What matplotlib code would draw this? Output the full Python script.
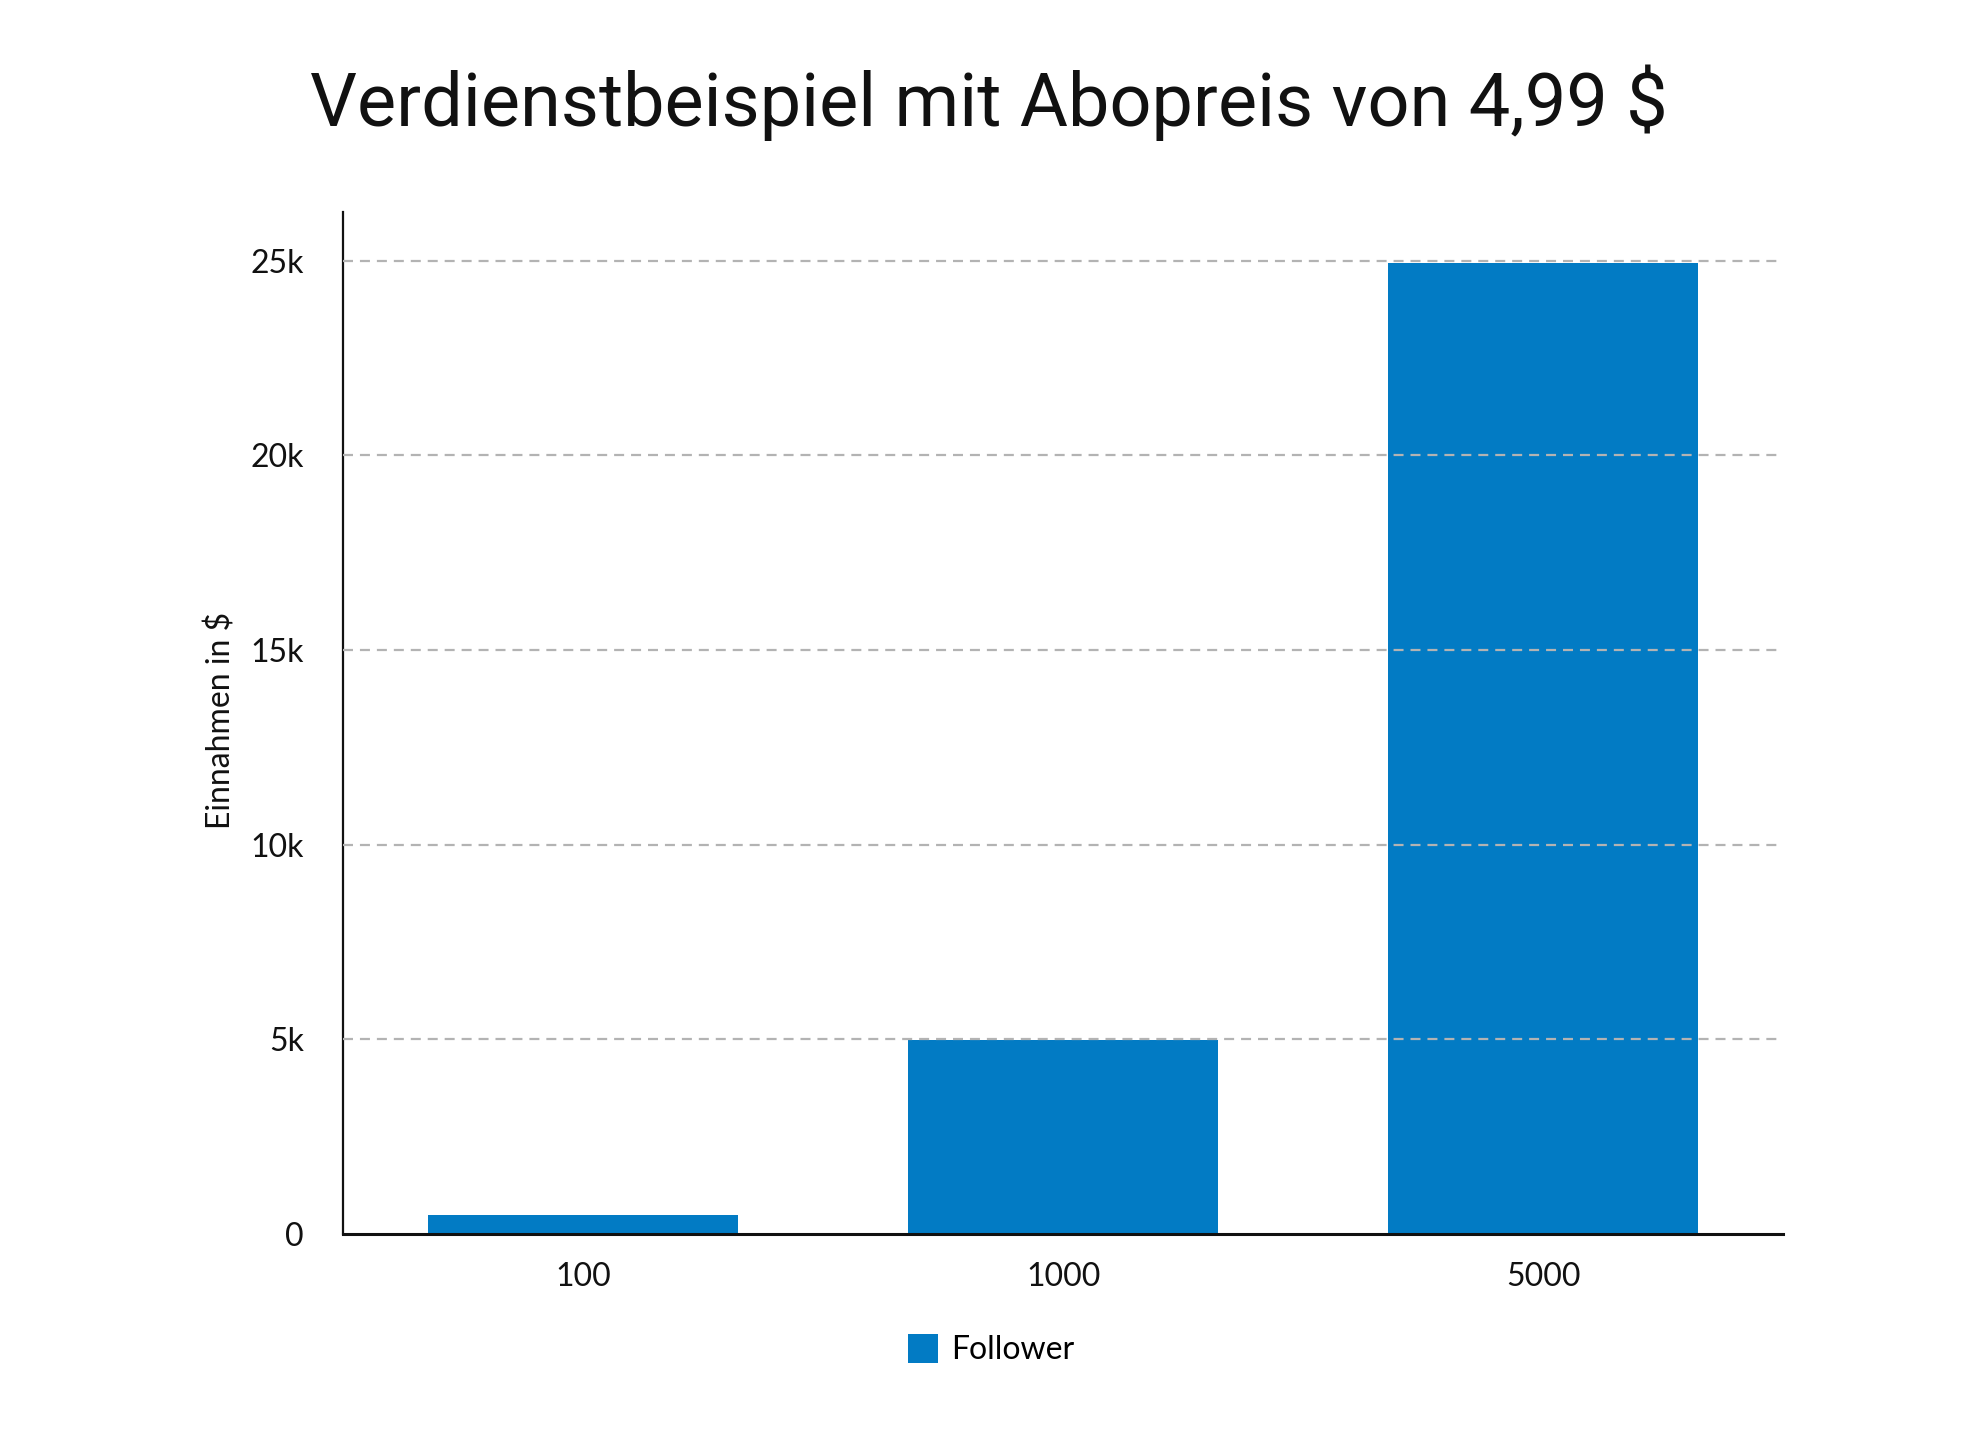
import matplotlib
matplotlib.use("Agg")
import matplotlib.pyplot as plt
from matplotlib.ticker import FuncFormatter

# data
followers = ["100", "1000", "5000"]
earnings = [499, 4990, 24950]
yticks = [0, 5000, 10000, 15000, 20000, 25000]

bar_color = "#027BC4"
plt.rcParams["font.family"] = ["Lato", "DejaVu Sans"]
plt.rcParams["lines.scale_dashes"] = False

fig = plt.figure(figsize=(19.8, 14.36), dpi=100)
ax = fig.add_axes([0.1732, 0.1407, 0.9007 - 0.1732, 0.8524 - 0.1407])

x = range(len(followers))
ax.bar(x, earnings, width=0.645, color=bar_color, label="Follower", zorder=2)

ax.set_xlim(-0.5, len(followers) - 0.5)
ax.set_ylim(0, 26250)
ax.set_xticks(list(x))
ax.set_xticklabels(followers)
ax.set_yticks(yticks)
ax.yaxis.set_major_formatter(FuncFormatter(lambda v, p: "0" if v == 0 else "%dk" % (v / 1000)))
ax.tick_params(axis="both", length=0, labelsize=23, colors="#111111")
ax.tick_params(axis="x", pad=20.5)
ax.tick_params(axis="y", pad=28)

for yv in yticks[1:]:
    ax.axhline(yv, color="#b3b3b3", linewidth=1.6, linestyle=(0, (7.2, 5.0)), zorder=3)

for side in ["top", "right"]:
    ax.spines[side].set_visible(False)
ax.spines["left"].set_linewidth(1.6)
ax.spines["bottom"].set_linewidth(2.2)
ax.spines["left"].set_color("#111111")
ax.spines["bottom"].set_color("#111111")

fig.text(0.4995, 1 - 126 / 1436, "Verdienstbeispiel mit Abopreis von 4,99 $",
         ha="center", va="baseline", fontsize=53.2, family=["Roboto", "DejaVu Sans"], color="#111111")
fig.text(0.1115, 0.498, "Einnahmen in $", rotation=90, ha="center", va="center",
         fontsize=23, color="#111111")

fig.legend(loc="center", bbox_to_anchor=(0.5005, 0.0600), frameon=False, fontsize=23,
           handlelength=0.95, handleheight=1.0, handletextpad=0.4)

fig.savefig("out.png", dpi=100, facecolor="white")
